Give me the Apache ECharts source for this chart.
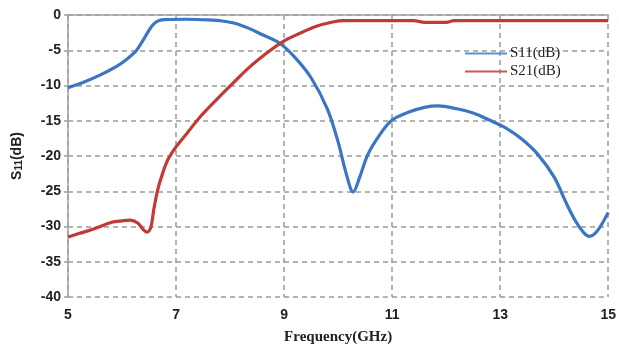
<!DOCTYPE html>
<html>
<head>
<meta charset="utf-8">
<script src="https://cdn.jsdelivr.net/npm/echarts@6/dist/echarts.min.js"></script>
<style>
  html, body { margin: 0; padding: 0; background: #fff; }
  #main { width: 619px; height: 350px; }
</style>
</head>
<body>
<div id="main"></div>
<script>
// S11 曲线 (频率 GHz / dB)
var s11Freq = [5.0, 5.3, 5.6, 5.9, 6.1, 6.27, 6.42, 6.55, 6.65, 6.78, 7.2, 7.6, 7.85, 8.1, 8.35, 8.6, 8.9, 9.2, 9.5, 9.8, 10.0, 10.15, 10.28, 10.4, 10.55, 10.77, 11.0, 11.3, 11.6, 11.85, 12.2, 12.5, 12.8, 13.1, 13.4, 13.7, 14.0, 14.2, 14.4, 14.55, 14.65, 14.8, 15.0];
var s11Val  = [-10.3, -9.5, -8.5, -7.3, -6.2, -5.0, -3.2, -1.6, -0.9, -0.65, -0.6, -0.7, -0.85, -1.2, -1.9, -2.8, -3.9, -6.0, -8.9, -13.3, -18.0, -22.5, -25.1, -23.0, -19.8, -17.0, -14.9, -13.8, -13.1, -12.9, -13.3, -13.9, -14.9, -16.0, -17.6, -19.8, -23.0, -26.3, -29.3, -30.9, -31.4, -30.6, -28.0];
// S21 曲线
var s21Freq = [5.0, 5.2, 5.46, 5.81, 6.0, 6.15, 6.29, 6.39, 6.46, 6.53, 6.59, 6.66, 6.75, 6.85, 7.0, 7.2, 7.44, 7.75, 8.05, 8.36, 8.68, 8.97, 9.29, 9.6, 9.9, 10.1, 11.4, 11.6, 12.0, 12.15, 15.0];
var s21Val  = [-31.5, -31.0, -30.4, -29.4, -29.2, -29.1, -29.5, -30.4, -30.8, -30.2, -27.5, -24.8, -22.5, -20.5, -18.7, -16.8, -14.5, -12.0, -9.7, -7.4, -5.4, -3.8, -2.6, -1.6, -1.0, -0.8, -0.8, -1.05, -1.05, -0.8, -0.8];

function pairs(xs, ys) {
    var out = [];
    for (var i = 0; i < xs.length; i++) {
        out.push([xs[i], ys[i]]);
    }
    return out;
}

var myChart = echarts.init(document.getElementById('main'));

var gridLine = {show: true, lineStyle: {color: '#9a9a9a', type: [5, 4], width: 1.5}};
var tickFont = {color: '#222', fontWeight: 'bold', fontSize: 14, fontFamily: 'Liberation Sans'};

var option = {
    animation: false,
    backgroundColor: '#fff',
    grid: {left: 68, right: 10, top: 15, bottom: 53},
    legend: {
        orient: 'vertical',
        left: 460,
        top: 41,
        itemWidth: 42,
        itemHeight: 2,
        itemGap: 3,
        icon: 'rect',
        textStyle: {color: '#222', fontSize: 15, fontFamily: 'Liberation Serif', padding: [0, 0, 0, -2]},
        data: [
            {name: 'S11(dB)', itemStyle: {color: '#5a8fd4'}},
            {name: 'S21(dB)', itemStyle: {color: '#d05552'}}
        ]
    },
    xAxis: [
        {
            type: 'value',
            min: 5,
            max: 15,
            interval: 2,
            name: 'Frequency(GHz)',
            nameLocation: 'middle',
            nameGap: 33,
            nameTextStyle: {color: '#222', fontWeight: 'bold', fontSize: 15, fontFamily: 'Liberation Serif'},
            axisLine: {show: false},
            axisTick: {show: false},
            axisLabel: {margin: 11, textStyle: tickFont},
            splitLine: gridLine
        },
        {
            type: 'value',
            position: 'top',
            min: 5,
            max: 15,
            axisLine: {show: true, lineStyle: {color: '#a0a0a0', width: 1.5}},
            axisTick: {show: false},
            axisLabel: {show: false},
            splitLine: {show: false}
        }
    ],
    yAxis: {
        type: 'value',
        min: -40,
        max: 0,
        interval: 5,
        name: '{s|S}{sub|11}{s|(dB)}',
        nameLocation: 'middle',
        nameGap: 44,
        nameTextStyle: {
            rich: {
                s: {color: '#222', fontWeight: 'bold', fontSize: 14, fontFamily: 'Liberation Sans'},
                sub: {color: '#222', fontWeight: 'bold', fontSize: 10, fontFamily: 'Liberation Sans', verticalAlign: 'bottom'}
            }
        },
        axisLine: {show: true, lineStyle: {color: '#a0a0a0', width: 1.5}},
        axisTick: {show: true, length: 4, lineStyle: {color: '#a0a0a0', width: 1.5}},
        axisLabel: {margin: 7, textStyle: tickFont},
        splitLine: gridLine
    },
    series: [
        {
            name: 'S11(dB)',
            type: 'line',
            smooth: 0.35,
            showSymbol: false,
            symbol: 'none',
            lineStyle: {color: '#3a76c4', width: 3.2},
            itemStyle: {color: '#3a76c4'},
            data: pairs(s11Freq, s11Val)
        },
        {
            name: 'S21(dB)',
            type: 'line',
            smooth: 0.35,
            showSymbol: false,
            symbol: 'none',
            lineStyle: {color: '#c23a35', width: 3.2},
            itemStyle: {color: '#c23a35'},
            data: pairs(s21Freq, s21Val)
        }
    ]
};

myChart.setOption(option);
</script>
</body>
</html>
